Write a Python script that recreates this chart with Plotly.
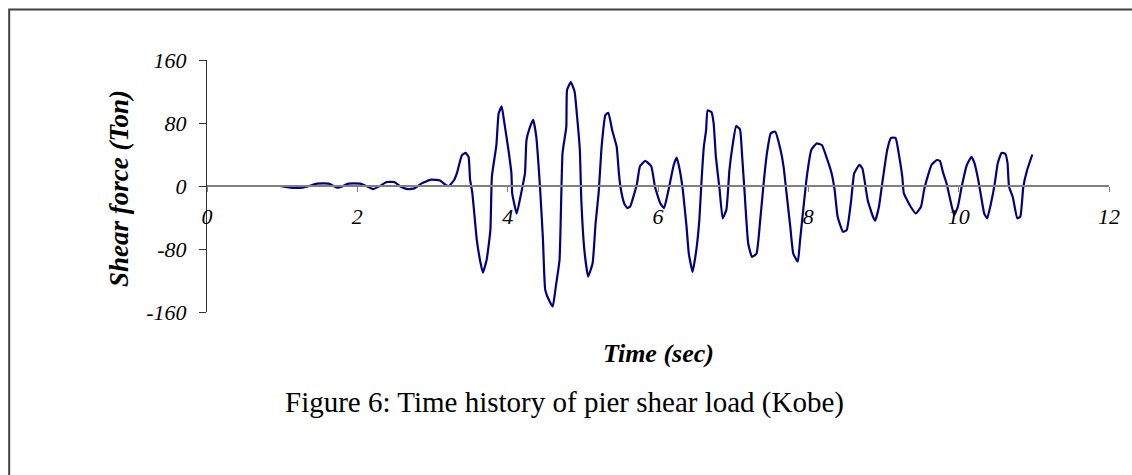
import plotly.graph_objects as go

time_sec = [0.97, 1.11, 1.27, 1.36, 1.46, 1.62, 1.73, 1.79, 1.88, 2.04, 2.12, 2.21, 2.30, 2.39, 2.49,
            2.58, 2.67, 2.76, 2.85, 2.98, 3.10, 3.18, 3.22,
            3.29, 3.33, 3.39, 3.44, 3.48, 3.50, 3.53, 3.59, 3.64, 3.67, 3.72, 3.77, 3.79, 3.85, 3.88,
            3.92, 3.95, 4.01, 4.05, 4.06, 4.12, 4.18, 4.23, 4.25, 4.29, 4.34, 4.38, 4.43, 4.47, 4.50,
            4.56, 4.60, 4.64, 4.69, 4.73, 4.78, 4.79, 4.84, 4.89, 4.92, 4.96, 4.98, 5.02, 5.07, 5.13,
            5.17, 5.21, 5.25, 5.30, 5.34, 5.39, 5.45, 5.48, 5.50, 5.55, 5.59, 5.63, 5.72, 5.76, 5.83,
            5.91, 5.96, 6.03, 6.08, 6.14, 6.21, 6.25, 6.29, 6.33, 6.38, 6.41, 6.46, 6.51, 6.55, 6.58,
            6.61, 6.64, 6.66, 6.71, 6.74, 6.77, 6.82, 6.86, 6.91, 6.95, 6.99, 7.04, 7.09, 7.12, 7.15,
            7.20, 7.25, 7.31, 7.36, 7.41, 7.45, 7.50, 7.56, 7.63, 7.67, 7.71, 7.76, 7.80, 7.86, 7.89,
            7.98, 8.04, 8.11, 8.18, 8.24, 8.31, 8.35, 8.39, 8.46, 8.51, 8.57, 8.61, 8.68, 8.72, 8.79,
            8.86, 8.89, 8.94, 8.99, 9.05, 9.10, 9.16, 9.21, 9.25, 9.27, 9.36, 9.43, 9.50, 9.54, 9.60,
            9.64, 9.71, 9.75, 9.79, 9.84, 9.88, 9.94, 9.99, 10.04, 10.11, 10.17, 10.21, 10.26, 10.30,
            10.34, 10.38, 10.43, 10.48, 10.52, 10.57, 10.62, 10.65, 10.67, 10.72, 10.78, 10.82, 10.86,
            10.91, 10.98]

shear_ton = [0, -2, -2, 0, 3, 3, -2, -1, 3, 3, 0, -4, 0, 5, 5,
             -1, -4, -3, 3, 8, 7, 1, 0,
             8, 18, 39, 42, 37, 8, -9, -69, -98, -110, -94, -56, 12, 52, 92,
             101, 84, 46, 16, -9, -35, -9, 16, 58, 73, 84, 63, -1, -69, -132,
             -147, -153, -128, -94, 42, 75, 122, 132, 120, 92, 46, -18, -81, -115, -98,
             -47, -9, 50, 90, 93, 71, 50, 16, -1, -22, -28, -26, 3, 25, 32,
             25, -1, -22, -28, -5, 27, 36, 20, -5, -52, -86, -109, -81, -43, 8,
             50, 71, 96, 94, 80, 37, -5, -41, -30, 20, 50, 76, 72, 37, -5,
             -73, -90, -86, -43, 8, 42, 67, 69, 46, 25, -9, -52, -86, -96, -69,
             12, 46, 54, 52, 37, 16, -5, -39, -58, -56, -18, 16, 27, 22, -18,
             -39, -44, -26, 8, 46, 61, 61, 37, 12, -9, -26, -35, -26, -5, 16,
             27, 33, 32, 18, 3, -14, -37, -26, -1, 27, 37, 29, 8, -14,
             -35, -41, -22, 3, 29, 42, 41, 29, -1, -14, -41, -39, -1,
             20, 40]

x_ticks = [0, 2, 4, 6, 8, 10, 12]
y_ticks = [-160, -80, 0, 80, 160]

SERIF = "Liberation Serif"

fig = go.Figure()
fig.add_trace(go.Scatter(x=time_sec, y=shear_ton, mode="lines",
                         line=dict(color="#000080", width=2.2, shape="spline", smoothing=0.4),
                         showlegend=False, hoverinfo="skip"))

fig.update_layout(
    width=1132, height=475,
    margin=dict(l=207, r=13, t=60, b=163),
    paper_bgcolor="white", plot_bgcolor="white",
    xaxis=dict(range=[0, 12], tickvals=x_ticks, ticktext=[str(v) for v in x_ticks],
               showgrid=False, zeroline=False, showline=True, linecolor="#808080", linewidth=1.5,
               ticks="outside", ticklen=5, tickcolor="#808080", tickwidth=1,
               anchor="free", position=0.5, ticklabelstandoff=6,
               tickfont=dict(family=SERIF, size=22, color="black", style="italic")),
    yaxis=dict(range=[-160, 160], tickvals=y_ticks, ticktext=[str(v) for v in y_ticks],
               showgrid=False, zeroline=False, showline=True, linecolor="#333333", linewidth=1,
               ticks="outside", ticklen=7, tickcolor="#333333", tickwidth=1,
               ticklabelstandoff=8,
               tickfont=dict(family=SERIF, size=22, color="black", style="italic")),
    annotations=[
        dict(text="<b><i>Shear force (Ton)</i></b>", xref="paper", yref="paper",
             x=(118 - 207) / 912, y=(312 - 188) / 252, textangle=-90, showarrow=False,
             xanchor="center", yanchor="middle",
             font=dict(family=SERIF, size=27, color="black")),
        dict(text="<b><i>Time (sec)</i></b>", xref="paper", yref="paper",
             x=(663 - 207) / 912, y=(312 - 353) / 252, showarrow=False,
             xanchor="center", yanchor="middle",
             font=dict(family=SERIF, size=26, color="black")),
        dict(text="Figure 6: Time history of pier shear load (Kobe)", xref="paper", yref="paper",
             x=(568 - 207) / 912, y=(312 - 402) / 252, showarrow=False,
             xanchor="center", yanchor="middle",
             font=dict(family=SERIF, size=29, color="black")),
    ],
    shapes=[
        dict(type="rect", xref="paper", yref="paper",
             x0=(7 - 207) / 912, x1=(1160 - 207) / 912,
             y0=(312 - 500) / 252, y1=(312 - 9.5) / 252,
             line=dict(color="#404040", width=2), fillcolor="rgba(0,0,0,0)", layer="below"),
    ],
)

fig.write_html("out.html")
